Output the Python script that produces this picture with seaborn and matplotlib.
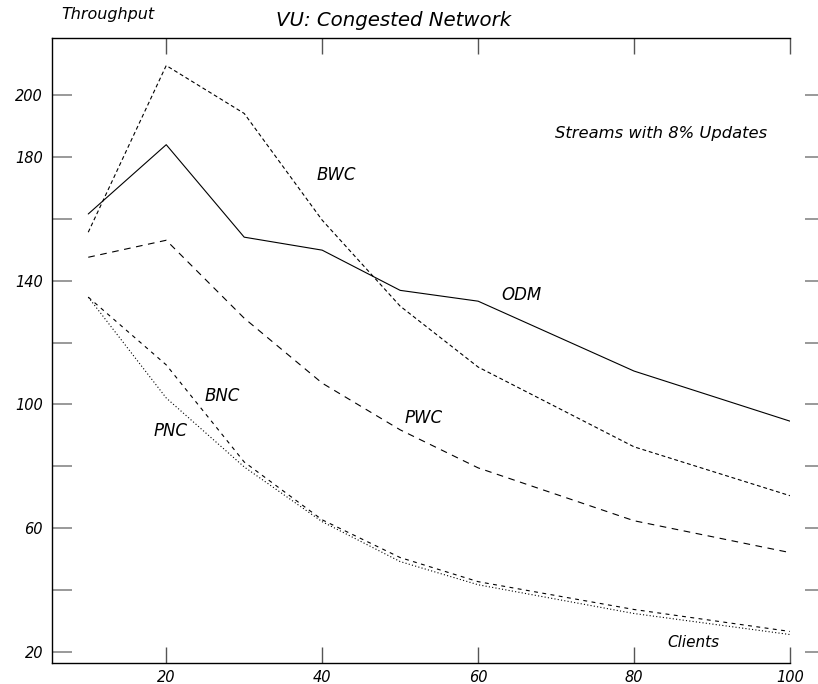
import numpy as np
import pandas as pd
import matplotlib
matplotlib.use("Agg")
import matplotlib.pyplot as plt
import seaborn as sns

# ---- data ----
clients = [10, 20, 30, 40, 50, 60, 80, 100]
odm = [161.6, 184.0, 154.1, 149.9, 136.9, 133.4, 110.8, 94.6]
bwc = [155.7, 209.6, 194.1, 159.6, 131.8, 112.1, 86.3, 70.5]
pwc = [147.6, 153.1, 127.9, 106.9, 91.8, 79.5, 62.4, 52.1]
bnc = [134.7, 112.8, 81.4, 62.7, 50.5, 42.7, 33.7, 26.6]
pnc = [134.7, 102.1, 79.8, 62.1, 49.2, 41.7, 32.4, 25.6]
series_names = ["ODM", "BWC", "PWC", "BNC", "PNC"]
xticks = [20, 40, 60, 80, 100]
yticks = [20, 40, 60, 80, 100, 120, 140, 160, 180, 200]
ytick_labels = ["20", "", "60", "", "100", "", "140", "", "180", "200"]

df = pd.DataFrame({
    "Clients": clients * 5,
    "Throughput": odm + bwc + pwc + bnc + pnc,
    "Method": sum([[n] * len(clients) for n in series_names], []),
})

sns.set_theme(style="white")
plt.rcParams["font.family"] = ["DejaVu Sans"]
plt.rcParams["font.style"] = "oblique"

W, H = 818, 684
fig = plt.figure(figsize=(W / 100, H / 100), dpi=100)
left, right, top, bottom = 52, 790, 38, 663
ax = fig.add_axes([left / W, 1 - bottom / H, (right - left) / W, (bottom - top) / H])

dashes = {"ODM": "", "BWC": (3.5, 2.5), "PWC": (6, 5), "BNC": (3.5, 4), "PNC": (1, 2)}
sns.lineplot(data=df, x="Clients", y="Throughput", style="Method", dashes=dashes,
             color="black", linewidth=0.8, legend=False, ax=ax)

ax.set_xlim(5.35, 100)
ax.set_ylim(16.4, 218.5)
ax.set_xlabel("")
ax.set_ylabel("")

for s in ["left", "bottom", "top"]:
    ax.spines[s].set_visible(True)
    ax.spines[s].set_color("black")
    ax.spines[s].set_linewidth(1.0)
ax.spines["right"].set_visible(False)

ax.set_xticks(xticks)
ax.set_xticklabels([str(v) for v in xticks])
ax.set_yticks(yticks)
ax.set_yticklabels(ytick_labels)

ax.tick_params(axis="x", which="major", direction="in", bottom=True, top=True,
               length=11.5, width=1.0, color="#555555", pad=5, labelsize=10.5,
               labelcolor="black")
ax.tick_params(axis="y", which="major", direction="in", left=True, right=False,
               length=14.4, width=1.2, color="#888888", pad=6.5, labelsize=10.5,
               labelcolor="black")
for lab in ax.get_xticklabels() + ax.get_yticklabels():
    lab.set_fontstyle("oblique")

# right-hand tick marks (detached from plot)
ax2 = ax.twinx()
ax2.set_ylim(ax.get_ylim())
ax2.set_yticks(yticks)
ax2.set_yticklabels([])
for s in ["left", "bottom", "top"]:
    ax2.spines[s].set_visible(False)
ax2.spines["right"].set_position(("outward", 20.2))
ax2.spines["right"].set_visible(False)
ax2.tick_params(axis="y", direction="in", right=True, left=False, length=9.4,
                width=1.2, color="#888888", labelright=False)
ax2.grid(False)
ax.grid(False)

# annotations
txt = dict(color="black", fontstyle="oblique", ha="center", va="center")
ax.text(41.85, 174.2, "BWC", fontsize=12, **txt)
ax.text(65.5, 135.4, "ODM", fontsize=12, **txt)
ax.text(53.0, 95.7, "PWC", fontsize=12, **txt)
ax.text(27.2, 102.8, "BNC", fontsize=12, **txt)
ax.text(20.5, 91.5, "PNC", fontsize=12, **txt)
ax.text(83.4, 187.7, "Streams with 8% Updates", fontsize=11.8, **txt)
ax.text(87.6, 23.0, "Clients", fontsize=11, **txt)

fig.text(108 / W, 1 - 15 / H, "Throughput", fontsize=11.5, **txt)
fig.text(394 / W, 1 - 20 / H, "VU: Congested Network", fontsize=14.2, **txt)

fig.savefig("out.png", dpi=100, facecolor="white")
